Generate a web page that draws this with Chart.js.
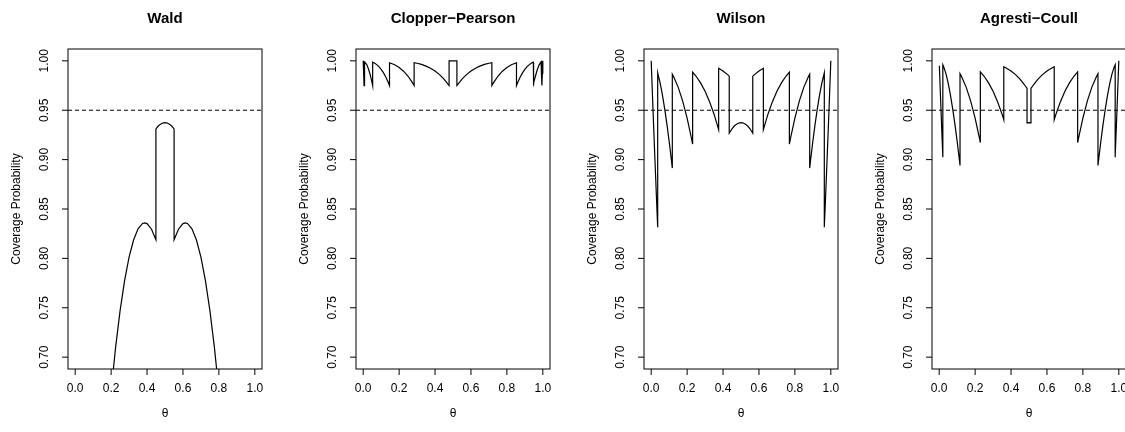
<!DOCTYPE html>
<html>
<head>
<meta charset="utf-8">
<script src="https://cdn.jsdelivr.net/npm/chart.js"></script>
<style>
  html, body { margin: 0; padding: 0; background: #fff; width: 1125px; height: 432px; overflow: hidden; }
  #panels { display: flex; width: 1152px; height: 432px; }
  canvas { display: block; }
</style>
</head>
<body>
<div id="panels">
  <canvas id="wald" width="288" height="432"></canvas>
  <canvas id="clopper" width="288" height="432"></canvas>
  <canvas id="wilson" width="288" height="432"></canvas>
  <canvas id="agresti" width="288" height="432"></canvas>
</div>
<script>
// axes
const xTicks = [0, 0.2, 0.4, 0.6, 0.8, 1]
const xTickLabels = ['0.0', '0.2', '0.4', '0.6', '0.8', '1.0']
const yTicks = [0.7, 0.75, 0.8, 0.85, 0.9, 0.95, 1]
const yTickLabels = ['0.70', '0.75', '0.80', '0.85', '0.90', '0.95', '1.00']
const nominalLevel = 0.95

// coverage curves (n = 5)
const waldTheta = [0, 0.1, 0.1706, 0.1706, 0.175, 0.2, 0.225, 0.25, 0.275, 0.3, 0.325, 0.35, 0.375, 0.3875, 0.4, 0.425, 0.4494, 0.4494, 0.4625, 0.475, 0.4875, 0.5, 0.5125, 0.525, 0.5375, 0.5506, 0.5506, 0.575, 0.6, 0.6125, 0.625, 0.65, 0.675, 0.7, 0.725, 0.75, 0.775, 0.8, 0.825, 0.8294, 0.8294, 0.9, 1]
const waldCoverage = [0, 0.4010, 0.5697, 0.6039, 0.6138, 0.6656, 0.7099, 0.7471, 0.7774, 0.8012, 0.8186, 0.8299, 0.8354, 0.8360, 0.8352, 0.8295, 0.8188, 0.9311, 0.9340, 0.9359, 0.9371, 0.9375, 0.9371, 0.9359, 0.9340, 0.9311, 0.8188, 0.8295, 0.8352, 0.8360, 0.8354, 0.8299, 0.8186, 0.8012, 0.7774, 0.7471, 0.7099, 0.6656, 0.6138, 0.6039, 0.5697, 0.4010, 0]

const cpTheta = [0, 0.0025, 0.0051, 0.0051, 0.01, 0.02, 0.03, 0.04, 0.05, 0.0527, 0.0527, 0.0625, 0.075, 0.0875, 0.1, 0.1125, 0.125, 0.1375, 0.1466, 0.1466, 0.15, 0.175, 0.2, 0.225, 0.25, 0.275, 0.2836, 0.2836, 0.3, 0.325, 0.35, 0.375, 0.4, 0.425, 0.45, 0.4782, 0.4782, 0.5218, 0.5218, 0.55, 0.575, 0.6, 0.625, 0.65, 0.675, 0.7, 0.7164, 0.7164, 0.725, 0.75, 0.775, 0.8, 0.825, 0.85, 0.8534, 0.8534, 0.8625, 0.875, 0.8875, 0.9, 0.9125, 0.925, 0.9375, 0.9473, 0.9473, 0.95, 0.96, 0.97, 0.98, 0.99, 0.9949, 0.9949, 0.9975, 1]
const cpCoverage = [1, 0.9876, 0.9750, 0.9997, 0.9990, 0.9962, 0.9915, 0.9852, 0.9774, 0.9750, 0.9986, 0.9978, 0.9962, 0.9941, 0.9914, 0.9881, 0.9839, 0.9791, 0.9750, 0.9980, 0.9978, 0.9960, 0.9933, 0.9895, 0.9844, 0.9777, 0.9750, 0.9982, 0.9976, 0.9964, 0.9947, 0.9926, 0.9898, 0.9861, 0.9815, 0.9750, 1, 1, 0.9750, 0.9815, 0.9861, 0.9898, 0.9926, 0.9947, 0.9964, 0.9976, 0.9982, 0.9750, 0.9777, 0.9844, 0.9895, 0.9933, 0.9960, 0.9978, 0.9980, 0.9750, 0.9791, 0.9839, 0.9881, 0.9914, 0.9941, 0.9962, 0.9978, 0.9986, 0.9750, 0.9774, 0.9852, 0.9915, 0.9962, 0.9990, 0.9997, 0.9750, 0.9876, 1]

const wilsonTheta = [0, 0.01, 0.02, 0.03, 0.0362, 0.0362, 0.05, 0.0625, 0.075, 0.0875, 0.1, 0.1125, 0.1176, 0.1176, 0.125, 0.15, 0.175, 0.2, 0.225, 0.2307, 0.2307, 0.25, 0.275, 0.3, 0.325, 0.35, 0.3755, 0.3755, 0.4, 0.425, 0.4345, 0.4345, 0.45, 0.4625, 0.475, 0.4875, 0.5, 0.5125, 0.525, 0.5375, 0.55, 0.5655, 0.5655, 0.575, 0.6, 0.6245, 0.6245, 0.65, 0.675, 0.7, 0.725, 0.75, 0.7693, 0.7693, 0.775, 0.8, 0.825, 0.85, 0.875, 0.8824, 0.8824, 0.8875, 0.9, 0.9125, 0.925, 0.9375, 0.95, 0.9638, 0.9638, 0.97, 0.98, 0.99, 1]
const wilsonCoverage = [1, 0.9510, 0.9039, 0.8587, 0.8315, 0.9878, 0.9774, 0.9656, 0.9517, 0.9360, 0.9185, 0.8996, 0.8914, 0.9865, 0.9839, 0.9734, 0.9595, 0.9421, 0.9211, 0.9158, 0.9885, 0.9844, 0.9777, 0.9692, 0.9587, 0.9460, 0.9304, 0.9925, 0.9898, 0.9861, 0.9845, 0.9267, 0.9312, 0.9340, 0.9359, 0.9371, 0.9375, 0.9371, 0.9359, 0.9340, 0.9312, 0.9267, 0.9845, 0.9861, 0.9898, 0.9925, 0.9304, 0.9460, 0.9587, 0.9692, 0.9777, 0.9844, 0.9885, 0.9158, 0.9211, 0.9421, 0.9595, 0.9734, 0.9839, 0.9865, 0.8914, 0.8996, 0.9185, 0.9360, 0.9517, 0.9656, 0.9774, 0.9878, 0.8315, 0.8587, 0.9039, 0.9510, 1]

const acTheta = [0.001, 0.01, 0.02, 0.0203, 0.0203, 0.025, 0.0375, 0.05, 0.0625, 0.075, 0.0875, 0.1, 0.1125, 0.116, 0.116, 0.125, 0.15, 0.175, 0.2, 0.225, 0.2291, 0.2291, 0.25, 0.275, 0.3, 0.325, 0.35, 0.3596, 0.3596, 0.375, 0.4, 0.425, 0.45, 0.475, 0.4891, 0.4891, 0.5, 0.5109, 0.5109, 0.525, 0.55, 0.575, 0.6, 0.625, 0.6404, 0.6404, 0.65, 0.675, 0.7, 0.725, 0.75, 0.7709, 0.7709, 0.775, 0.8, 0.825, 0.85, 0.875, 0.884, 0.884, 0.8875, 0.9, 0.9125, 0.925, 0.9375, 0.95, 0.9625, 0.975, 0.9797, 0.9797, 0.98, 0.99, 1]
const acCoverage = [0.9950, 0.9510, 0.9039, 0.9024, 0.9960, 0.9941, 0.9870, 0.9774, 0.9656, 0.9517, 0.9360, 0.9185, 0.8996, 0.8940, 0.9870, 0.9839, 0.9734, 0.9595, 0.9421, 0.9211, 0.9173, 0.9888, 0.9844, 0.9777, 0.9692, 0.9587, 0.9460, 0.9404, 0.9940, 0.9926, 0.9898, 0.9861, 0.9815, 0.9758, 0.9720, 0.9372, 0.9375, 0.9372, 0.9720, 0.9758, 0.9815, 0.9861, 0.9898, 0.9926, 0.9940, 0.9404, 0.9460, 0.9587, 0.9692, 0.9777, 0.9844, 0.9888, 0.9173, 0.9211, 0.9421, 0.9595, 0.9734, 0.9839, 0.9870, 0.8940, 0.8996, 0.9185, 0.9360, 0.9517, 0.9656, 0.9774, 0.9870, 0.9941, 0.9960, 0.9024, 0.9039, 0.9510, 1]

const FONT = '"Liberation Sans", Arial, Helvetica, sans-serif'

// R-style box, ticks, rotated labels and the dashed 0.95 line
const baseGraphics = {
  id: 'baseGraphics',
  afterDatasetsDraw(chart, args, opts) {
    const { ctx, chartArea: a, scales: { x, y } } = chart
    ctx.save()
    ctx.strokeStyle = '#000'
    ctx.fillStyle = '#000'
    ctx.lineWidth = 1

    const yRef = y.getPixelForValue(nominalLevel)
    ctx.setLineDash([4, 3])
    ctx.beginPath()
    ctx.moveTo(a.left, yRef)
    ctx.lineTo(a.right, yRef)
    ctx.stroke()
    ctx.setLineDash([])

    ctx.strokeRect(a.left, a.top, a.right - a.left, a.bottom - a.top)

    ctx.beginPath()
    xTicks.forEach((v) => {
      const px = x.getPixelForValue(v)
      ctx.moveTo(px, a.bottom)
      ctx.lineTo(px, a.bottom + 6)
    })
    yTicks.forEach((v) => {
      const py = y.getPixelForValue(v)
      ctx.moveTo(a.left, py)
      ctx.lineTo(a.left - 6, py)
    })
    ctx.stroke()

    ctx.font = '12px ' + FONT
    ctx.textAlign = 'center'
    ctx.textBaseline = 'middle'
    xTicks.forEach((v, i) => {
      ctx.fillText(xTickLabels[i], x.getPixelForValue(v), 389)
    })
    yTicks.forEach((v, i) => {
      ctx.save()
      ctx.translate(45, y.getPixelForValue(v))
      ctx.rotate(-Math.PI / 2)
      ctx.fillText(yTickLabels[i], 0, 0)
      ctx.restore()
    })

    const midX = (a.left + a.right) / 2
    const midY = (a.top + a.bottom) / 2
    ctx.fillText('θ', midX, 414)

    ctx.save()
    ctx.translate(17, midY)
    ctx.rotate(-Math.PI / 2)
    ctx.fillText('Coverage Probability', 0, 0)
    ctx.restore()

    ctx.font = 'bold 15px ' + FONT
    ctx.fillText(opts.title, midX, 19)
    ctx.restore()
  },
}

function coveragePanel(id, title, theta, coverage) {
  return new Chart(document.getElementById(id), {
    type: 'line',
    data: {
      datasets: [
        {
          data: theta.map((t, i) => ({ x: t, y: coverage[i] })),
          borderColor: '#000',
          borderWidth: 1.2,
          pointRadius: 0,
          tension: 0,
          fill: false,
          clip: 0,
        },
      ],
    },
    options: {
      responsive: false,
      animation: false,
      events: [],
      layout: { padding: { left: 68, right: 26, top: 49, bottom: 63 } },
      plugins: {
        legend: { display: false },
        tooltip: { enabled: false },
        baseGraphics: { title },
      },
      scales: {
        x: { type: 'linear', display: false, min: -0.04, max: 1.04 },
        y: { type: 'linear', display: false, min: 0.688, max: 1.012 },
      },
    },
    plugins: [baseGraphics],
  })
}

coveragePanel('wald', 'Wald', waldTheta, waldCoverage)
coveragePanel('clopper', 'Clopper\u2212Pearson', cpTheta, cpCoverage)
coveragePanel('wilson', 'Wilson', wilsonTheta, wilsonCoverage)
coveragePanel('agresti', 'Agresti\u2212Coull', acTheta, acCoverage)
</script>
</body>
</html>
